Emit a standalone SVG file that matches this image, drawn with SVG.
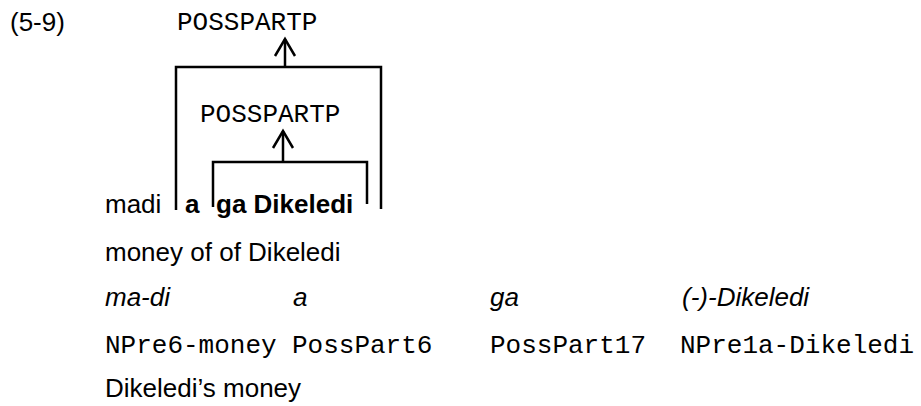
<svg xmlns="http://www.w3.org/2000/svg" width="921" height="406" viewBox="0 0 921 406">
  <style>
    .sans { font-family: "Liberation Sans", Arial, sans-serif; font-size: 26px; fill: #000; }
    .bold { font-weight: bold; }
    .ital { font-style: italic; }
    .mono { font-family: "Liberation Mono", "Courier New", monospace; font-size: 26px; fill: #000; }
    .line { fill: none; stroke: #000; stroke-width: 2.5; stroke-linejoin: miter; }
  </style>
  <rect width="921" height="406" fill="#fff"/>

  <!-- example number -->
  <g id="label">
    <text class="sans" x="10" y="31">(5-9)</text>
  </g>

  <!-- tree nodes -->
  <g id="node-posspartp-outer">
    <text class="mono" x="177" y="30">POSSPARTP</text>
  </g>
  <g id="node-posspartp-inner">
    <text class="mono" x="200" y="122">POSSPARTP</text>
  </g>
  <g id="node-words">
    <text class="sans" x="105" y="213">madi</text>
    <text class="sans bold" x="185" y="213">a</text>
    <text class="sans bold" x="216" y="213">ga Dikeledi</text>
  </g>

  <!-- brackets and arrows -->
  <g id="connectors" class="line">
    <path d="M176 210 V67 H381 V209"/>
    <path d="M285 67 V39"/>
    <path d="M275 56 L285 39 L295 56"/>
    <path d="M213 207 V162 H367 V204"/>
    <path d="M283 162 V131"/>
    <path d="M273 148 L283 131 L293 148"/>
  </g>

  <!-- glosses -->
  <g id="gloss-literal">
    <text class="sans" x="105" y="261">money of of Dikeledi</text>
  </g>
  <g id="gloss-morphemes">
    <text class="sans ital" x="105" y="306">ma-di</text>
    <text class="sans ital" x="293" y="306">a</text>
    <text class="sans ital" x="490" y="306">ga</text>
    <text class="sans ital" x="682" y="306">(-)-Dikeledi</text>
  </g>
  <g id="gloss-tags">
    <text class="mono" x="105" y="353">NPre6-money</text>
    <text class="mono" x="292" y="353">PossPart6</text>
    <text class="mono" x="490" y="353">PossPart17</text>
    <text class="mono" x="680" y="353">NPre1a-Dikeledi</text>
  </g>
  <g id="gloss-free">
    <text class="sans" x="105" y="397">Dikeledi’s money</text>
  </g>
</svg>
